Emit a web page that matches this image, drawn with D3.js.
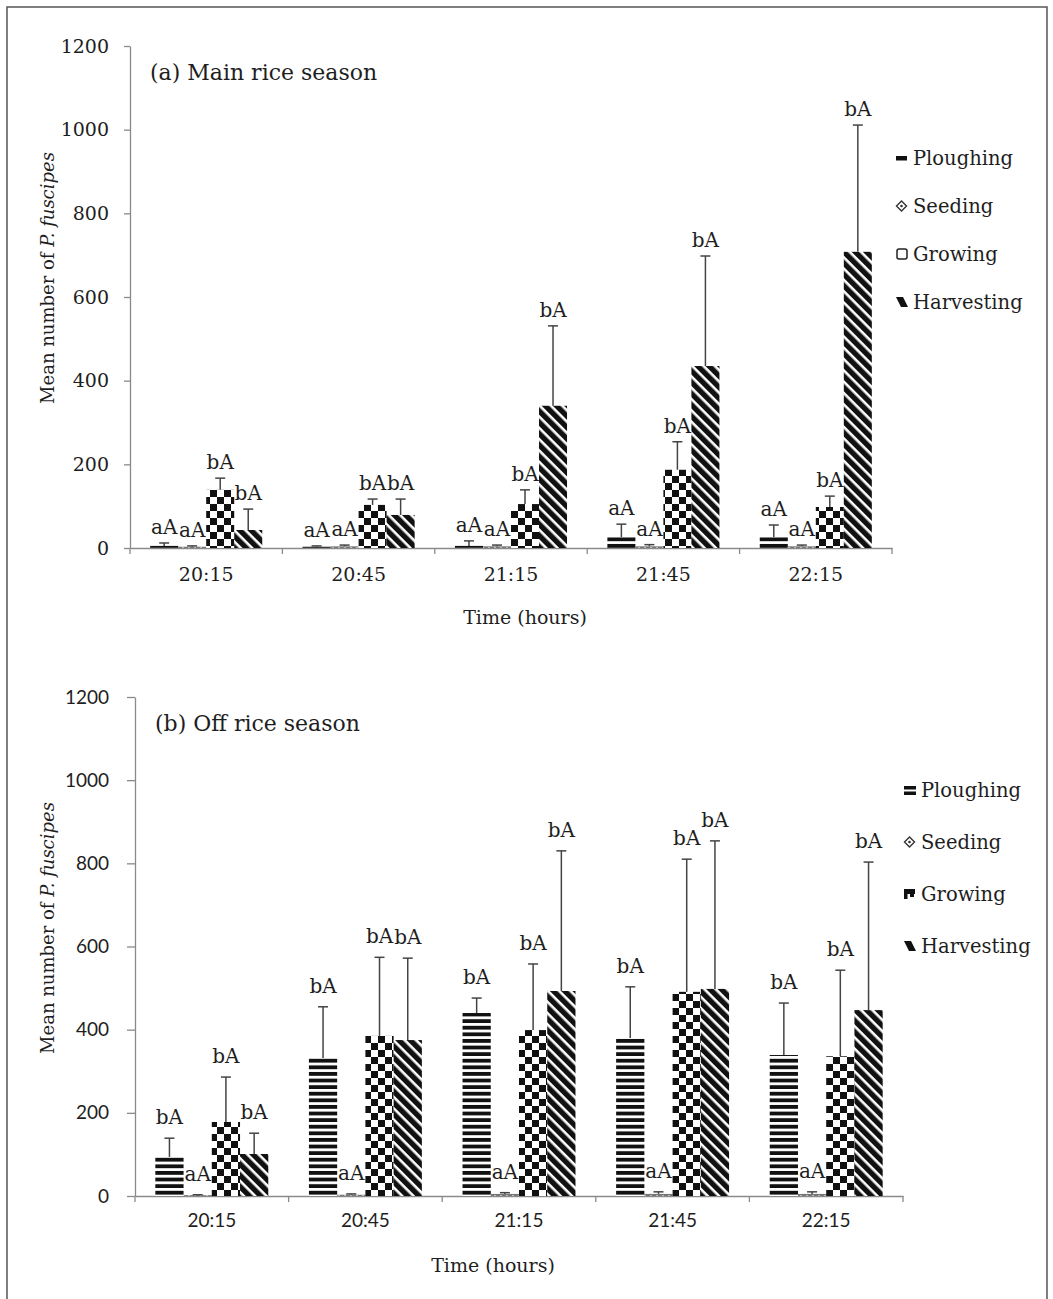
<!DOCTYPE html>
<html>
<head>
<meta charset="utf-8">
<script src="https://cdn.jsdelivr.net/npm/d3@7"></script>
<style>
  html, body { margin: 0; padding: 0; background: #fff; }
  svg { display: block; }
</style>
</head>
<body>
<svg id="chart" width="1053" height="1299"></svg>
<script>
// ---------- DATA ----------
const categories = ["20:15", "20:45", "21:15", "21:45", "22:15"];
const series = ["Ploughing", "Seeding", "Growing", "Harvesting"];
const yTicks = [0, 200, 400, 600, 800, 1000, 1200];

// (a) Main rice season: means and tops of error bars (mean + SE)
const mainPloughing      = [5, 3, 5, 26, 26];
const mainPloughingErr   = [12, 5, 17, 57, 55];
const mainSeeding        = [3, 4, 4, 4, 4];
const mainSeedingErr     = [5, 7, 7, 8, 7];
const mainGrowing        = [139, 103, 105, 187, 98];
const mainGrowingErr     = [167, 117, 139, 254, 124];
const mainHarvesting     = [43, 79, 340, 435, 708];
const mainHarvestingErr  = [93, 117, 531, 698, 1011];
const mainLetters = ["aA", "aA", "bA", "bA"];

// (b) Off rice season
const offPloughing       = [94, 332, 440, 380, 339];
const offPloughingErr    = [139, 455, 476, 503, 464];
const offSeeding         = [2, 3, 5, 5, 5];
const offSeedingErr      = [3, 5, 8, 10, 10];
const offGrowing         = [178, 385, 399, 491, 336];
const offGrowingErr      = [286, 574, 558, 810, 543];
const offHarvesting      = [101, 375, 493, 498, 447];
const offHarvestingErr   = [151, 572, 830, 854, 803];
const offLetters = ["bA", "aA", "bA", "bA"];

// ---------- DRAWING ----------
const svg = d3.select("#chart");
const SERIF = "'DejaVu Serif', 'Liberation Serif', serif";
const SANS = "Lato, 'Open Sans', sans-serif";
const TXT = "#1e1e1e";

// frame
svg.append("rect").attr("x", 7).attr("y", 7).attr("width", 1040).attr("height", 1310)
  .attr("fill", "none").attr("stroke", "#555").attr("stroke-width", 1.5);

// patterns
const defs = svg.append("defs");
const pH = defs.append("pattern").attr("id", "pPlough").attr("patternUnits", "userSpaceOnUse")
  .attr("width", 8).attr("height", 6.6);
pH.append("rect").attr("width", 8).attr("height", 6.6).attr("fill", "#fff");
pH.append("rect").attr("y", 2.8).attr("width", 8).attr("height", 3.8).attr("fill", "#111");
const pS = defs.append("pattern").attr("id", "pSeed").attr("patternUnits", "userSpaceOnUse")
  .attr("width", 6).attr("height", 6);
pS.append("rect").attr("width", 6).attr("height", 6).attr("fill", "#777");
pS.append("path").attr("d", "M3,1 L5,3 L3,5 L1,3 Z").attr("fill", "#fff");
const pC = defs.append("pattern").attr("id", "pGrow").attr("patternUnits", "userSpaceOnUse")
  .attr("width", 14).attr("height", 14);
pC.append("rect").attr("width", 14).attr("height", 14).attr("fill", "#fff");
pC.append("rect").attr("width", 7).attr("height", 7).attr("fill", "#111");
pC.append("rect").attr("x", 7).attr("y", 7).attr("width", 7).attr("height", 7).attr("fill", "#111");
const pD = defs.append("pattern").attr("id", "pHarv").attr("patternUnits", "userSpaceOnUse")
  .attr("width", 8).attr("height", 8).attr("patternTransform", "rotate(-45)");
pD.append("rect").attr("width", 8).attr("height", 8).attr("fill", "#fff");
pD.append("rect").attr("width", 5.4).attr("height", 8).attr("fill", "#111");

const fills = {Ploughing: "url(#pPlough)", Seeding: "url(#pSeed)", Growing: "url(#pGrow)", Harvesting: "url(#pHarv)"};

// legend swatch drawers (small glyphs as in the reference)
function swatch(g, s, x, cy, variant) {
  if (s === "Ploughing") {
    if (variant === "a") {
      g.append("rect").attr("x", x).attr("y", cy - 2).attr("width", 11).attr("height", 4.5).attr("fill", "#111");
    } else {
      g.append("rect").attr("x", x).attr("y", cy - 4).attr("width", 12).attr("height", 3.5).attr("fill", "#111");
      g.append("rect").attr("x", x).attr("y", cy + 1.5).attr("width", 12).attr("height", 3.5).attr("fill", "#111");
    }
  } else if (s === "Seeding") {
    g.append("path").attr("d", `M${x + 5.5},${cy - 5} L${x + 10.5},${cy} L${x + 5.5},${cy + 5} L${x + 0.5},${cy} Z`)
      .attr("fill", "none").attr("stroke", "#333").attr("stroke-width", 1.4);
    g.append("circle").attr("cx", x + 5.5).attr("cy", cy).attr("r", 1.3).attr("fill", "#333");
  } else if (s === "Growing") {
    if (variant === "a") {
      g.append("rect").attr("x", x + 1).attr("y", cy - 5).attr("width", 10).attr("height", 10).attr("rx", 2)
        .attr("fill", "none").attr("stroke", "#222").attr("stroke-width", 1.5);
    } else {
      g.append("rect").attr("x", x).attr("y", cy - 5).attr("width", 11).attr("height", 5).attr("fill", "#111");
      g.append("rect").attr("x", x).attr("y", cy - 5).attr("width", 3.5).attr("height", 10).attr("fill", "#111");
      g.append("rect").attr("x", x + 6).attr("y", cy).attr("width", 4).attr("height", 3).attr("fill", "#111");
    }
  } else {
    g.append("path").attr("d", `M${x},${cy - 5} L${x + 7},${cy - 5} L${x + 12},${cy + 5} L${x + 5},${cy + 5} Z`)
      .attr("fill", "#111");
  }
}

function drawPanel(cfg) {
  const g = svg.append("g");
  const x = d3.scaleBand().domain(categories).range([cfg.x0, cfg.x1]).paddingInner(0).paddingOuter(0);
  const x1 = d3.scaleBand().domain(series).range([0, x.bandwidth()]).paddingInner(0).paddingOuter(0.72);
  const y = d3.scaleLinear().domain([0, 1200]).range([cfg.yBottom, cfg.yTop]);

  // y axis
  const ya = g.append("g").attr("transform", `translate(${cfg.x0},0)`)
    .call(d3.axisLeft(y).tickValues(yTicks).tickFormat(d3.format("d"))
      .tickSize(cfg.tickLen).tickPadding(cfg.tickPad).tickSizeOuter(0));
  ya.select(".domain").attr("stroke", "#8a8a8a").attr("stroke-width", 1.3);
  ya.selectAll(".tick line").attr("stroke", "#8a8a8a").attr("stroke-width", 1.3);
  ya.selectAll(".tick text").attr("font-family", cfg.tickFont).attr("font-size", cfg.yTickSize).attr("fill", TXT);

  // x axis
  const xa = g.append("g").attr("transform", `translate(0,${cfg.yBottom})`)
    .call(d3.axisBottom(x).tickSize(0).tickPadding(cfg.xTickPad).tickSizeOuter(0));
  xa.select(".domain").attr("stroke", "#8a8a8a").attr("stroke-width", 1.3);
  xa.selectAll(".tick text").attr("font-family", cfg.tickFont).attr("font-size", cfg.xTickSize).attr("fill", TXT);
  const bounds = categories.map(c => x(c)).concat([x(categories[categories.length - 1]) + x.bandwidth()]);
  g.selectAll("line.bound").data(bounds).enter().append("line")
    .attr("x1", d => d).attr("x2", d => d).attr("y1", cfg.yBottom).attr("y2", cfg.yBottom + 6)
    .attr("stroke", "#8a8a8a").attr("stroke-width", 1.3);

  // bars
  const rows = [];
  categories.forEach((c, i) => {
    series.forEach((s, j) => {
      rows.push({cat: c, s: s, v: cfg.means[j][i], e: cfg.errs[j][i], lab: cfg.letters[j]});
    });
  });
  const bg = g.append("g");
  bg.selectAll("rect").data(rows).enter().append("rect")
    .attr("x", d => x(d.cat) + x1(d.s))
    .attr("width", x1.bandwidth())
    .attr("y", d => y(d.v))
    .attr("height", d => y(0) - y(d.v))
    .attr("fill", d => fills[d.s]);

  // error bars (upper only)
  const eg = g.append("g").attr("stroke", "#444").attr("stroke-width", 1.5);
  rows.forEach(d => {
    const cx = x(d.cat) + x1(d.s) + x1.bandwidth() / 2;
    eg.append("line").attr("x1", cx).attr("x2", cx).attr("y1", y(d.v)).attr("y2", y(d.e));
    eg.append("line").attr("x1", cx - 5).attr("x2", cx + 5).attr("y1", y(d.e)).attr("y2", y(d.e));
  });

  // letters
  g.selectAll("text.lab").data(rows).enter().append("text")
    .attr("x", d => x(d.cat) + x1(d.s) + x1.bandwidth() / 2)
    .attr("y", d => y(d.e) - cfg.labOff)
    .attr("text-anchor", "middle")
    .attr("font-family", SERIF).attr("font-size", 20).attr("fill", TXT)
    .text(d => d.lab);

  // panel title
  g.append("text").attr("x", cfg.titleX).attr("y", cfg.titleY)
    .attr("font-family", SERIF).attr("font-size", 22).attr("fill", TXT).text(cfg.title);

  // y axis title
  const yt = g.append("text")
    .attr("transform", `translate(${cfg.yTitleX},${cfg.yTitleY}) rotate(-90)`)
    .attr("text-anchor", "middle").attr("font-family", SERIF).attr("font-size", 18).attr("fill", TXT);
  yt.append("tspan").text("Mean number of ");
  yt.append("tspan").attr("font-style", "italic").text("P. fuscipes");

  // x axis title
  g.append("text").attr("x", cfg.xTitleX).attr("y", cfg.xTitleY).attr("text-anchor", "middle")
    .attr("font-family", SERIF).attr("font-size", 19).attr("fill", TXT).text("Time (hours)");

  // legend
  const lg = g.append("g");
  series.forEach((s, j) => {
    const cy = cfg.legY0 + j * cfg.legDy;
    swatch(lg, s, cfg.legX, cy, cfg.variant);
    lg.append("text").attr("x", cfg.legX + 17).attr("y", cy + 7)
      .attr("font-family", SERIF).attr("font-size", 19.5).attr("fill", TXT).text(s);
  });
}

drawPanel({
  variant: "a",
  x0: 130, x1: 892, yTop: 46, yBottom: 548,
  tickLen: 6, tickPad: 15, tickFont: SERIF, yTickSize: 19, xTickSize: 19, xTickPad: 20,
  means: [mainPloughing, mainSeeding, mainGrowing, mainHarvesting],
  errs: [mainPloughingErr, mainSeedingErr, mainGrowingErr, mainHarvestingErr],
  letters: mainLetters, labOff: 9,
  title: "(a) Main rice season", titleX: 150, titleY: 80,
  yTitleX: 54, yTitleY: 278, xTitleX: 525, xTitleY: 624,
  legX: 896, legY0: 158, legDy: 48
});

drawPanel({
  variant: "b",
  x0: 135, x1: 903, yTop: 697, yBottom: 1196,
  tickLen: 8, tickPad: 18, tickFont: SANS, yTickSize: 19, xTickSize: 19, xTickPad: 18,
  means: [offPloughing, offSeeding, offGrowing, offHarvesting],
  errs: [offPloughingErr, offSeedingErr, offGrowingErr, offHarvestingErr],
  letters: offLetters, labOff: 14,
  title: "(b) Off rice season", titleX: 155, titleY: 731,
  yTitleX: 54, yTitleY: 928, xTitleX: 493, xTitleY: 1272,
  legX: 904, legY0: 790, legDy: 52
});
</script>
</body>
</html>
